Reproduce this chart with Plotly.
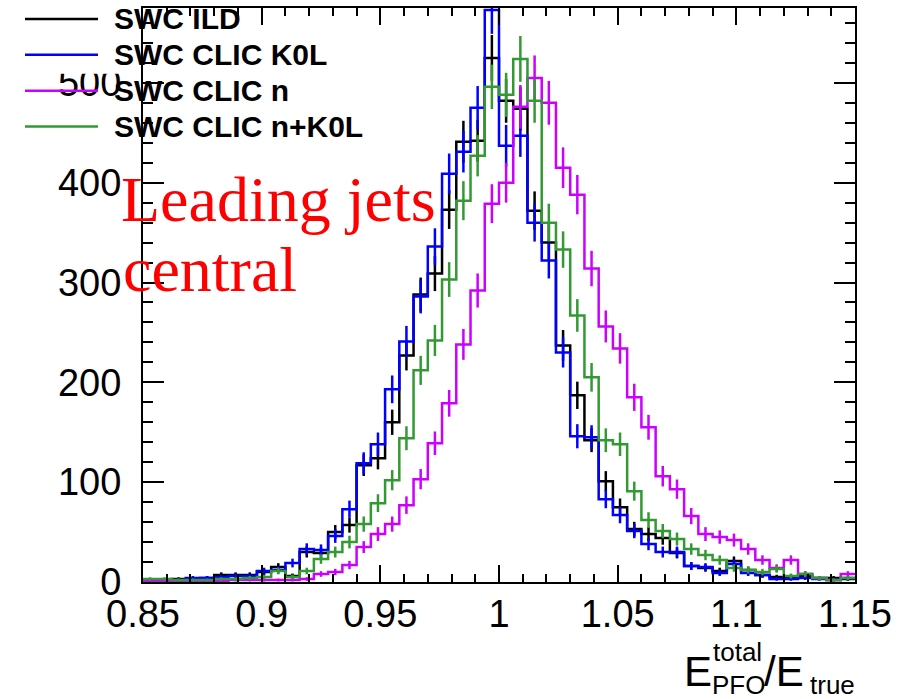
import numpy as np
import plotly.graph_objects as go

# Binning of E_PFO^total / E_true
x_lo, x_hi, n_bins = 0.85, 1.15, 50

# Bin contents (entries per bin)
swc_ild = [2, 2, 3, 3, 4, 7, 7, 7, 10, 15,
           6, 30, 29, 50, 57, 117, 124, 160, 227, 288,
           309, 373, 441, 442, 525, 482, 474, 372, 340, 237,
           187, 142, 101, 75, 53, 48, 44, 29, 16, 14,
           11, 21, 12, 7, 5, 5, 6, 4, 4, 3]
swc_clic_k0l = [1, 1, 2, 4, 4, 5, 6, 6, 11, 12,
                19, 33, 32, 46, 73, 119, 138, 193, 241, 286,
                336, 409, 431, 475, 573, 437, 447, 360, 322, 230,
                146, 145, 83, 67, 51, 38, 30, 30, 16, 15,
                9, 18, 9, 7, 3, 3, 4, 3, 2, 4]
swc_clic_n = [1, 1, 1, 1, 1, 1, 2, 2, 2, 2,
              2, 3, 8, 10, 17, 35, 48, 58, 77, 103,
              139, 179, 238, 292, 379, 400, 476, 505, 480, 415,
              388, 314, 256, 234, 185, 155, 106, 93, 66, 48,
              45, 42, 33, 22, 14, 22, 8, 4, 2, 8]
swc_clic_n_k0l = [3, 3, 2, 2, 2, 3, 3, 4, 5, 11,
                  5, 11, 23, 30, 40, 58, 79, 102, 144, 212,
                  242, 303, 382, 427, 496, 488, 524, 482, 360, 333,
                  267, 205, 142, 138, 91, 62, 51, 43, 33, 27,
                  22, 14, 12, 10, 13, 6, 8, 4, 2, 4]

series_names = ["SWC ILD", "SWC CLIC K0L", "SWC CLIC n", "SWC CLIC n+K0L"]
series_counts = [swc_ild, swc_clic_k0l, swc_clic_n, swc_clic_n_k0l]
series_colors = ["#000000", "#0000ff", "#cc00ff", "#339933"]

x_tick_vals = [0.85, 0.9, 0.95, 1.0, 1.05, 1.1, 1.15]
x_tick_text = ["0.85", "0.9", "0.95", "1", "1.05", "1.1", "1.15"]
y_tick_vals = [0, 100, 200, 300, 400, 500]
y_tick_text = ["0", "100", "200", "300", "400", "500"]
y_max = 575

edges = np.linspace(x_lo, x_hi, n_bins + 1)
centers = 0.5 * (edges[:-1] + edges[1:])

W, H = 910, 699
ML, MR, MT, MB = 143, 55, 6, 117
PW, PH = W - ML - MR, H - MT - MB


def px(x):
    return (x - ML) / PW


def py(y):
    return (H - MB - y) / PH


fig = go.Figure()
for name, counts, color in zip(series_names, series_counts, series_colors):
    c = np.asarray(counts, dtype=float)
    # step outline of the histogram
    fig.add_trace(go.Scatter(
        x=edges, y=np.append(c, c[-1]), mode="lines",
        line=dict(color=color, width=2.5, shape="hv"),
        name=name, showlegend=False, hoverinfo="skip"))
    # Poisson error bars at bin centres
    fig.add_trace(go.Scatter(
        x=centers, y=c, mode="markers",
        marker=dict(size=0.1, color=color),
        error_y=dict(type="data", array=np.sqrt(c), color=color,
                     thickness=2.5, width=0),
        name=name, showlegend=False))

axis_font = dict(family="Liberation Sans, Arial, sans-serif", size=38, color="black")

fig.update_xaxes(
    range=[x_lo, x_hi], showgrid=False, zeroline=False,
    showline=True, linewidth=2, linecolor="black", mirror="ticks",
    ticks="inside", ticklen=17, tickwidth=2, tickcolor="black",
    tickvals=x_tick_vals, ticktext=x_tick_text, tickfont=axis_font,
    ticklabelstandoff=-3,
    minor=dict(ticks="inside", dtick=0.01, tick0=0.85, ticklen=8,
               tickwidth=2, tickcolor="black"),
)
fig.update_yaxes(
    range=[0, y_max], showgrid=False, zeroline=False,
    showline=True, linewidth=2, linecolor="black", mirror="ticks",
    ticks="inside", ticklen=21, tickwidth=2, tickcolor="black",
    tickvals=y_tick_vals, ticktext=y_tick_text, tickfont=axis_font,
    ticklabelstandoff=12,
    minor=dict(ticks="inside", dtick=20, tick0=0, ticklen=10,
               tickwidth=2, tickcolor="black"),
)

shapes = []
annotations = []

# white band under the legend that masks the top of the "500" label
shapes.append(dict(type="rect", xref="paper", yref="paper",
                   x0=px(50), x1=px(138), y0=py(72), y1=py(57),
                   fillcolor="white", line=dict(width=0), layer="above"))

# legend block
legend_rows = [17, 53, 89, 125]
for name, color, yrow in zip(series_names, series_colors, legend_rows):
    shapes.append(dict(type="line", xref="paper", yref="paper",
                       x0=px(25), x1=px(98), y0=py(yrow), y1=py(yrow),
                       line=dict(color=color, width=2.5)))
    annotations.append(dict(
        text="<b>%s</b>" % name, xref="paper", yref="paper",
        x=px(112), y=py(yrow), xanchor="left", yanchor="middle",
        showarrow=False,
        font=dict(family="Liberation Sans, Arial, sans-serif", size=30, color="black")))

# red label
label_font = dict(family="Liberation Serif, Times New Roman, serif", size=64, color="#ff0000")
annotations.append(dict(text="Leading jets", xref="paper", yref="paper",
                        x=px(119), y=py(198), xanchor="left", yanchor="middle",
                        showarrow=False, font=label_font))
annotations.append(dict(text="central", xref="paper", yref="paper",
                        x=px(121), y=py(268), xanchor="left", yanchor="middle",
                        showarrow=False, font=label_font))

# axis title E_PFO^total / E_true
big = dict(family="Liberation Sans, Arial, sans-serif", size=42, color="black")
small = dict(family="Liberation Sans, Arial, sans-serif", size=26, color="black")
title_parts = [
    ("E", 682, 672, big),
    ("total", 711, 652, small),
    ("PFO", 710, 685, small),
    ("/E", 762, 672, big),
    ("true", 808, 685, small),
]
for txt, xl, yc, f in title_parts:
    annotations.append(dict(text=txt, xref="paper", yref="paper",
                            x=px(xl), y=py(yc), xanchor="left", yanchor="middle",
                            showarrow=False, font=f))

fig.update_layout(
    width=W, height=H,
    margin=dict(l=ML, r=MR, t=MT, b=MB, pad=0),
    paper_bgcolor="white", plot_bgcolor="white",
    showlegend=False,
    shapes=shapes, annotations=annotations,
)

fig.write_html("out.html")
